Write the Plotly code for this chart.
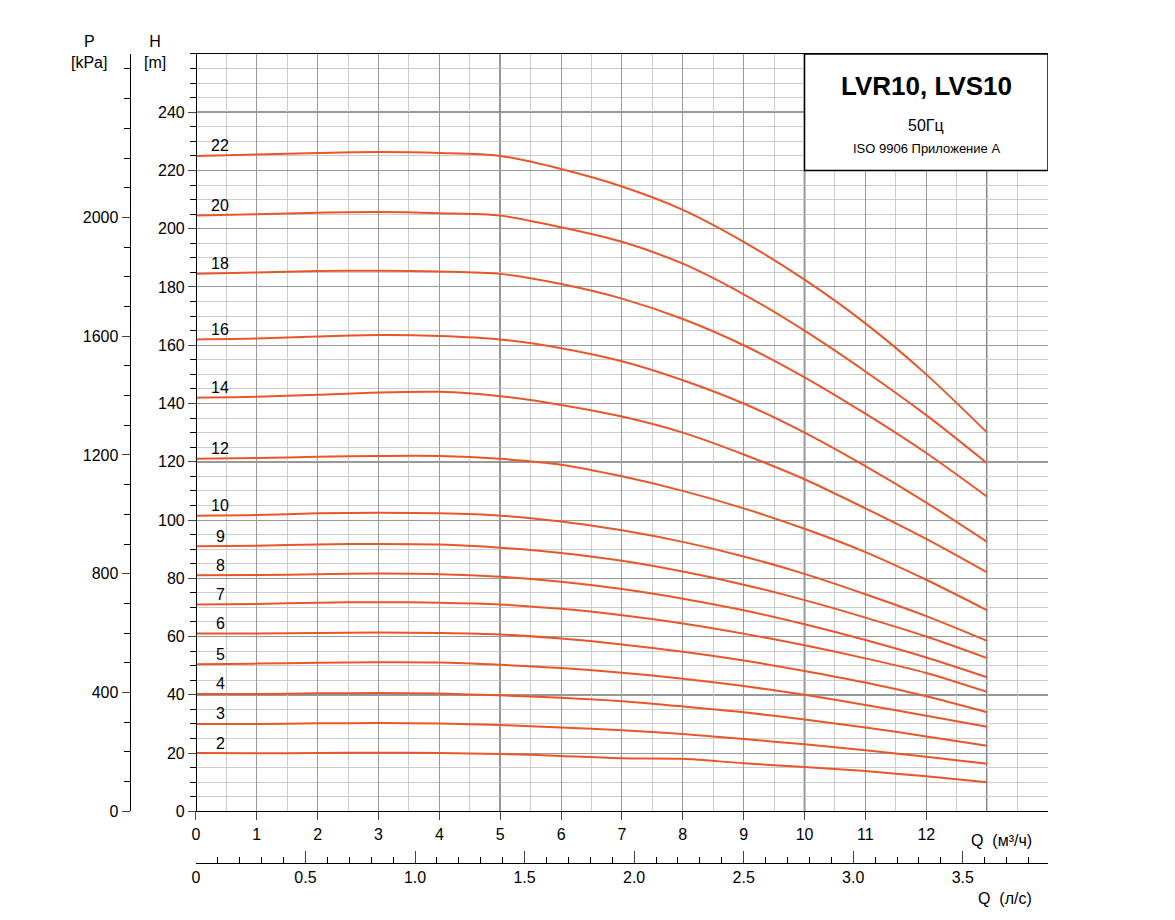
import plotly.graph_objects as go

# Q in m3/h
q = [0, 1, 2, 3, 4, 5, 6, 7, 8, 9, 10, 11, 12, 13]
stages = [22, 20, 18, 16, 14, 12, 10, 9, 8, 7, 6, 5, 4, 3, 2]
heads = {
    22: [225, 225.5, 226, 226.3, 226, 225, 220.5, 214.5, 206.5, 195.5, 182.5, 167.5, 150, 130],
    20: [204.5, 205, 205.5, 205.7, 205.3, 204.5, 200.5, 195.5, 188, 177.5, 165, 151, 136, 119.5],
    18: [184.5, 185, 185.5, 185.6, 185.3, 184.5, 181, 176, 169, 160, 149, 136.5, 123, 108],
    16: [162, 162.3, 163, 163.5, 163.2, 162, 159, 154.5, 148, 140, 130, 118.5, 106, 92.5],
    14: [142, 142.3, 143, 143.8, 144, 142.5, 139.5, 135.5, 130, 122.5, 114, 104, 93.5, 82],
    12: [121, 121.3, 121.7, 122, 122, 121, 119, 115, 110, 104, 97, 89, 79.5, 69],
    10: [101.5, 101.7, 102.3, 102.5, 102.3, 101.5, 99.5, 96.5, 92.5, 87.5, 81.5, 74.5, 67, 58.5],
    9: [91, 91.2, 91.6, 91.8, 91.6, 90.5, 88.7, 86, 82.3, 77.8, 72.5, 66.5, 60, 52.6],
    8: [81, 81.1, 81.4, 81.6, 81.4, 80.5, 78.8, 76.3, 73, 69, 64.2, 58.8, 52.8, 46],
    7: [71, 71.2, 71.6, 71.8, 71.6, 71, 69.5, 67.3, 64.5, 61, 57, 52.5, 47.5, 41],
    6: [61, 61, 61.2, 61.4, 61.2, 60.7, 59.3, 57.3, 54.8, 51.8, 48.2, 44.2, 39.5, 34],
    5: [50.5, 50.7, 51, 51.2, 51.1, 50.3, 49.2, 47.6, 45.5, 43, 40, 36.5, 32.8, 29],
    4: [40.3, 40.3, 40.5, 40.6, 40.4, 39.8, 39, 37.8, 36, 34, 31.5, 28.8, 25.7, 22.5],
    3: [30, 30, 30.2, 30.3, 30.1, 29.6, 28.8, 27.8, 26.5, 24.8, 23, 21, 18.7, 16.3],
    2: [20, 19.9, 20, 20.1, 20, 19.7, 19, 18.2, 18, 16.5, 15.2, 13.8, 12, 10],
}
p_ticks = [0, 400, 800, 1200, 1600, 2000]
ls_ticks = [0, 0.5, 1.0, 1.5, 2.0, 2.5, 3.0, 3.5]

KPA_PER_M = 9.81
H_MAX = 260
Q_MAX = 14
line_col = "#e8572a"
fnt = dict(family="Liberation Sans, Arial", size=16, color="black")

fig = go.Figure()
for n in stages:
    fig.add_trace(go.Scatter(x=q, y=heads[n], mode="lines", line=dict(color=line_col, width=2, shape="spline", smoothing=0.8),
                             showlegend=False, hoverinfo="skip"))
    fig.add_annotation(x=0.4, y=heads[n][0], text=str(n), showarrow=False, yshift=10, font=fnt)

# dummy traces for extra axes
fig.add_trace(go.Scatter(x=[0], y=[0], yaxis="y2", mode="markers", marker=dict(opacity=0), showlegend=False))
fig.add_trace(go.Scatter(x=[0], y=[0], xaxis="x2", mode="markers", marker=dict(opacity=0), showlegend=False))

dom_x0 = 0.0935
dom_y0 = 0.102
fig.update_layout(
    width=1175, height=920, plot_bgcolor="white", paper_bgcolor="white",
    margin=dict(l=100, r=135, t=40, b=30),
    font=fnt,
    xaxis=dict(range=[0, Q_MAX], domain=[dom_x0, 1], tickvals=list(range(13)), ticks="outside", ticklen=8,
               showgrid=True, gridcolor="#999", gridwidth=1, dtick=1, tick0=0,
               minor=dict(dtick=0.5, showgrid=True, gridcolor="#ccc", ticks=""),
               showline=True, linecolor="black", mirror=True, zeroline=False),
    yaxis=dict(range=[0, H_MAX], domain=[dom_y0, 0.993], anchor="free", position=dom_x0, tickvals=list(range(0, 241, 20)),
               ticks="outside", ticklen=8, showgrid=True, gridcolor="#999",
               minor=dict(dtick=5, showgrid=True, gridcolor="#ccc", ticks="outside", ticklen=6, tickcolor="black"),
               showline=True, linecolor="black", mirror=True, zeroline=False),
    yaxis2=dict(range=[0, H_MAX * KPA_PER_M], overlaying="y", anchor="free", position=0.023, side="left",
                tickvals=p_ticks, ticks="outside", ticklen=8, showgrid=False, zeroline=False,
                minor=dict(dtick=100, ticks="outside", ticklen=6, tickcolor="black"),
                showline=True, linecolor="black"),
    xaxis2=dict(range=[0, Q_MAX / 3.6], overlaying="x", anchor="free", position=0.0415, side="bottom",
                tickvals=ls_ticks, ticktext=["0", "0.5", "1.0", "1.5", "2.0", "2.5", "3.0", "3.5"],
                ticks="inside", ticklen=12, showgrid=False, zeroline=False,
                minor=dict(dtick=0.1, ticks="inside", ticklen=6, tickcolor="black"),
                showline=True, linecolor="black"),
)

for xv in [5, 10, 13]:
    fig.add_shape(type="line", x0=xv, x1=xv, y0=0, y1=H_MAX, line=dict(color="#333", width=1.5), layer="below")
for yv in [40, 120, 240]:
    fig.add_shape(type="line", x0=0, x1=Q_MAX, y0=yv, y1=yv, line=dict(color="#333", width=1.5), layer="below")

# title box
fig.add_shape(type="rect", xref="x", yref="y", x0=10, x1=14, y0=220, y1=H_MAX,
              line=dict(color="black", width=1.5), fillcolor="white", layer="above")
fig.add_annotation(x=12, y=249, text="<b>LVR10, LVS10</b>", showarrow=False, font=dict(size=26, family="Liberation Sans, Arial"))
fig.add_annotation(x=12, y=235.5, text="50Гц", showarrow=False, font=dict(size=16))
fig.add_annotation(x=12, y=227.5, text="ISO 9906 Приложение A", showarrow=False, font=dict(size=13))

# axis titles
fig.add_annotation(xref="paper", yref="paper", x=-0.02, y=0.995, text="P<br>[kPa]", showarrow=False, xanchor="center", yanchor="middle")
fig.add_annotation(xref="paper", yref="paper", x=0.05, y=0.995, text="H<br>[m]", showarrow=False, xanchor="center", yanchor="middle")
fig.add_annotation(xref="paper", yref="paper", x=0.985, y=0.068, text="Q  (м³/ч)", showarrow=False, yanchor="middle")
fig.add_annotation(xref="paper", yref="paper", x=0.985, y=0.0, text="Q  (л/с)", showarrow=False, yanchor="middle")

fig.write_html("out.html")
